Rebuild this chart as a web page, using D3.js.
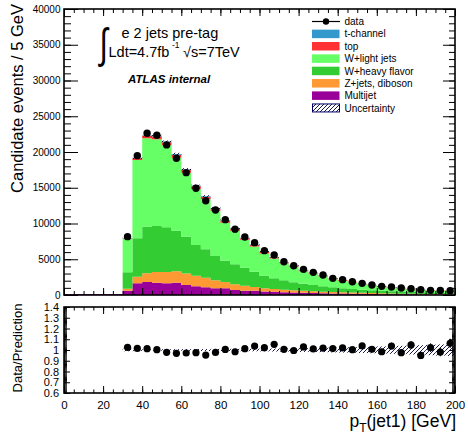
<!DOCTYPE html>
<html><head><meta charset="utf-8">
<script src="https://cdn.jsdelivr.net/npm/d3@7"></script>
<style>
body{margin:0;background:#fff}
svg{display:block}
text{font-family:"Liberation Sans",Arial,Helvetica,sans-serif;fill:#000}
</style>
</head><body>
<svg id="c" width="468" height="443"></svg>
<script>
// ---- data (5 GeV bins, low edges) ----
const binLow   = [30,35,40,45,50,55,60,65,70,75,80,85,90,95,100,105,110,115,120,125,130,135,140,145,150,155,160,165,170,175,180,185,190,195];
const multijet = [600,1630,1820,1720,1630,1720,1400,1210,1070,930,930,700,600,580,500,450,400,350,310,280,250,220,200,180,160,140,120,110,100,90,80,70,65,60];
const zjets    = [280,930,1210,1480,1600,1600,1600,1480,1330,1150,900,820,700,550,450,400,350,310,280,250,220,195,175,155,140,125,110,100,90,80,72,65,58,52];
const wheavy   = [2290,5370,6530,6450,6240,5680,5160,4310,3990,3380,2970,2770,2520,2130,1750,1480,1300,1130,1000,880,760,660,580,510,450,395,350,310,275,245,220,195,175,160];
const wlight   = [4690,10960,12350,12120,11470,10210,8945,7830,7015,6300,5305,4710,3890,3525,3120,2765,2380,2154,1738,1587,1395,1113,1055,922,742,661,590,506,492,393,380,272,304,265];
const ttbar    = [80,250,350,400,420,420,400,380,350,320,300,270,240,220,200,180,160,140,130,115,100,90,80,70,62,55,48,43,38,33,30,27,24,22];
const tchan    = [20,60,90,100,100,100,95,90,85,80,75,70,60,55,50,45,40,36,32,28,25,22,20,18,16,14,12,11,10,9,8,7,6,6];
const dataObs  = [8160,19490,22620,22340,20990,19120,17110,14920,13190,11890,10540,9190,8110,7320,6200,5600,4660,4100,3590,3170,2800,2330,2150,1860,1630,1400,1210,1120,980,890,750,650,620,600];
const relUnc   = [0.012,0.008,0.007,0.007,0.007,0.008,0.008,0.009,0.009,0.010,0.010,0.011,0.011,0.012,0.013,0.014,0.015,0.016,0.018,0.019,0.020,0.022,0.024,0.026,0.028,0.030,0.033,0.036,0.039,0.042,0.045,0.048,0.052,0.056];

const xTicks = [0,20,40,60,80,100,120,140,160,180,200];
const yTicks = [0,5000,10000,15000,20000,25000,30000,35000,40000];
const rTicks = [0.6,0.7,0.8,0.9,1,1.1,1.2,1.3,1.4];

const legendItems = [
  {label:"data", type:"data"},
  {label:"t-channel", key:"tchan"},
  {label:"top", key:"ttbar"},
  {label:"W+light jets", key:"wlight"},
  {label:"W+heavy flavor", key:"wheavy"},
  {label:"Z+jets, diboson", key:"zjets"},
  {label:"Multijet", key:"multijet"},
  {label:"Uncertainty", type:"unc"}
];

const colors = {multijet:"#990099", zjets:"#ff9933", wheavy:"#33cc33", wlight:"#66ff66", ttbar:"#ff3333", tchan:"#3399cc"};
const keys = ["multijet","zjets","wheavy","wlight","ttbar","tchan"];
const series = {multijet, zjets, wheavy, wlight, ttbar, tchan};
const BW = 5;

// ---- scales ----
const svg = d3.select("#c");
const x  = d3.scaleLinear().domain([0,200]).range([64,455]);
const y  = d3.scaleLinear().domain([0,40000]).range([295,9]);
const yr = d3.scaleLinear().domain([0.6,1.4]).range([393,307]);

// hatch pattern
const defs = svg.append("defs");
const pat = defs.append("pattern").attr("id","hatch").attr("patternUnits","userSpaceOnUse")
  .attr("width",4).attr("height",4);
pat.append("path").attr("d","M0,4 L4,0 M-1,1 L1,-1 M3,5 L5,3")
  .attr("stroke","#000033").attr("stroke-width",0.9);

// ---- stacked histogram ----
const rows = binLow.map((b,i)=>{const r={b}; keys.forEach(k=>r[k]=series[k][i]); return r;});
const stacked = d3.stack().keys(keys)(rows);
const area = d3.area().x(p=>x(p.x)).y0(p=>y(p.y0)).y1(p=>y(p.y1));
stacked.forEach(layer=>{
  const pts = [];
  layer.forEach(d=>{
    pts.push({x:d.data.b, y0:d[0], y1:d[1]});
    pts.push({x:d.data.b+BW, y0:d[0], y1:d[1]});
  });
  svg.append("path").attr("d",area(pts)).attr("fill",colors[layer.key]);
});
const totals = rows.map(r=>keys.reduce((s,k)=>s+r[k],0));

// purple multijet baseline below 30 GeV
svg.append("line").attr("x1",x(0)).attr("x2",x(30)).attr("y1",y(0)-0.5).attr("y2",y(0)-0.5)
  .attr("stroke","#990099").attr("stroke-width",1);

// uncertainty band main
svg.append("g").selectAll("rect").data(rows).join("rect")
  .attr("x",d=>x(d.b)).attr("width",d=>x(d.b+BW)-x(d.b))
  .attr("y",(d,i)=>y(totals[i]*(1+relUnc[i])))
  .attr("height",(d,i)=>y(totals[i]*(1-relUnc[i]))-y(totals[i]*(1+relUnc[i])))
  .attr("fill","url(#hatch)");

// data points main
const gD = svg.append("g");
binLow.forEach((b,i)=>{
  const cx = x(b+BW/2), v = dataObs[i], e = Math.sqrt(v);
  gD.append("line").attr("x1",cx).attr("x2",cx).attr("y1",y(v-e)).attr("y2",y(v+e)).attr("stroke","#000").attr("stroke-width",1);
  gD.append("circle").attr("cx",cx).attr("cy",y(v)).attr("r",3.7).attr("fill","#000");
});

// ---- ratio panel ----
svg.append("g").selectAll("rect").data(rows).join("rect")
  .attr("x",d=>x(d.b)).attr("width",d=>x(d.b+BW)-x(d.b))
  .attr("y",(d,i)=>yr(1+relUnc[i]))
  .attr("height",(d,i)=>yr(1-relUnc[i])-yr(1+relUnc[i]))
  .attr("fill","url(#hatch)");
const gR = svg.append("g");
binLow.forEach((b,i)=>{
  const cx = x(b+BW/2), r = dataObs[i]/totals[i], e = Math.sqrt(dataObs[i])/totals[i];
  gR.append("line").attr("x1",cx).attr("x2",cx).attr("y1",yr(r-e)).attr("y2",yr(r+e)).attr("stroke","#000").attr("stroke-width",1);
  gR.append("circle").attr("cx",cx).attr("cy",yr(r)).attr("r",3.6).attr("fill","#000");
});

// ---- axes ----
function axis(orient, scale, vals, len, tx, ty, labels, fontSize, pad){
  const gen = {left:d3.axisLeft, right:d3.axisRight, top:d3.axisTop, bottom:d3.axisBottom}[orient];
  const ax = gen(scale).tickValues(vals).tickSizeInner(-len).tickSizeOuter(0).tickPadding(pad||3)
    .tickFormat(labels ? (d=>String(d)) : "");
  const g = svg.append("g").attr("transform",`translate(${tx},${ty})`).call(ax);
  g.attr("font-family",null).attr("font-size",null);
  g.select(".domain").remove();
  g.selectAll("line").attr("stroke","#000").attr("stroke-width",1);
  g.selectAll("text").attr("font-size",fontSize).attr("fill","#000");
  return g;
}
const x5 = d3.range(0,201,5), y1k = d3.range(0,40001,1000), r01 = d3.range(60,141).map(v=>v/100);
// main
axis("left", y, y1k, 7, 64, 0, false);
axis("left", y, yTicks, 14, 64, 0, true, 10, 3.5);
axis("right", y, y1k, 6, 455, 0, false);
axis("right", y, yTicks, 12, 455, 0, false);
axis("bottom", x, x5, 4, 0, 295, false);
axis("bottom", x, xTicks, 7, 0, 295, false);
axis("top", x, x5, 4, 0, 9, false);
axis("top", x, xTicks, 7, 0, 9, false);
// ratio
axis("left", yr, r01, 3, 64, 0, false);
axis("left", yr, rTicks, 6, 64, 0, true, 11, 5);
axis("right", yr, r01, 3, 455, 0, false);
axis("right", yr, rTicks, 6, 455, 0, false);
axis("bottom", x, x5, 3.5, 0, 393, false);
axis("bottom", x, xTicks, 7, 0, 393, true, 11.5, 8);
axis("top", x, x5, 3.5, 0, 307, false);
axis("top", x, xTicks, 7, 0, 307, false);

// frames
svg.append("rect").attr("x",64).attr("y",9).attr("width",391).attr("height",286)
  .attr("fill","none").attr("stroke","#000").attr("stroke-width",1.6);
svg.append("rect").attr("x",64).attr("y",307).attr("width",391).attr("height",86)
  .attr("fill","none").attr("stroke","#000").attr("stroke-width",1.6);

// ---- legend ----
const lg = svg.append("g");
legendItems.forEach((it,i)=>{
  const cy = 21.5 + i*12.35;
  if(it.type==="data"){
    lg.append("line").attr("x1",312).attr("x2",340).attr("y1",cy).attr("y2",cy).attr("stroke","#000").attr("stroke-width",1.2);
    lg.append("circle").attr("cx",326).attr("cy",cy).attr("r",3.2).attr("fill","#000");
  } else if(it.type==="unc"){
    lg.append("rect").attr("x",312.5).attr("y",cy-4).attr("width",27).attr("height",8)
      .attr("fill","url(#hatch)").attr("stroke","#000066").attr("stroke-width",1);
  } else {
    lg.append("rect").attr("x",312).attr("y",cy-4.2).attr("width",27.5).attr("height",8.5).attr("fill",colors[it.key]);
  }
  lg.append("text").attr("x",344.5).attr("y",cy+3.6).attr("font-size",10).text(it.label);
});

// ---- texts ----
svg.append("text").attr("x",121.5).attr("y",37.5).attr("font-size",14.5).text("e 2 jets pre-tag");
svg.append("text").attr("transform","translate(99.5,58) scale(0.72,1)").attr("font-size",42).text("∫");
svg.append("text").attr("x",108.5).attr("y",57).attr("font-size",14.5).text("Ldt=4.7fb");
svg.append("text").attr("x",172).attr("y",48).attr("font-size",8.5).text("-1");
svg.append("text").attr("x",183).attr("y",57).attr("font-size",14.5).text("√s=7TeV");
svg.append("text").attr("x",128).attr("y",83).attr("font-size",11.5).attr("font-weight","bold").attr("font-style","italic").text("ATLAS internal");

svg.append("text").attr("transform","translate(23,4) rotate(-90)").attr("text-anchor","end")
  .attr("font-size",16.5).text("Candidate events / 5 GeV");
svg.append("text").attr("transform","translate(21.5,348) rotate(-90)").attr("text-anchor","middle")
  .attr("font-size",13).text("Data/Prediction");
const xt = svg.append("text").attr("x",456).attr("y",427).attr("text-anchor","end").attr("font-size",17.5);
xt.append("tspan").text("p");
xt.append("tspan").attr("font-size",12).attr("dy",5).text("T");
xt.append("tspan").attr("dy",-5).text("(jet1) [GeV]");
</script>
</body></html>
